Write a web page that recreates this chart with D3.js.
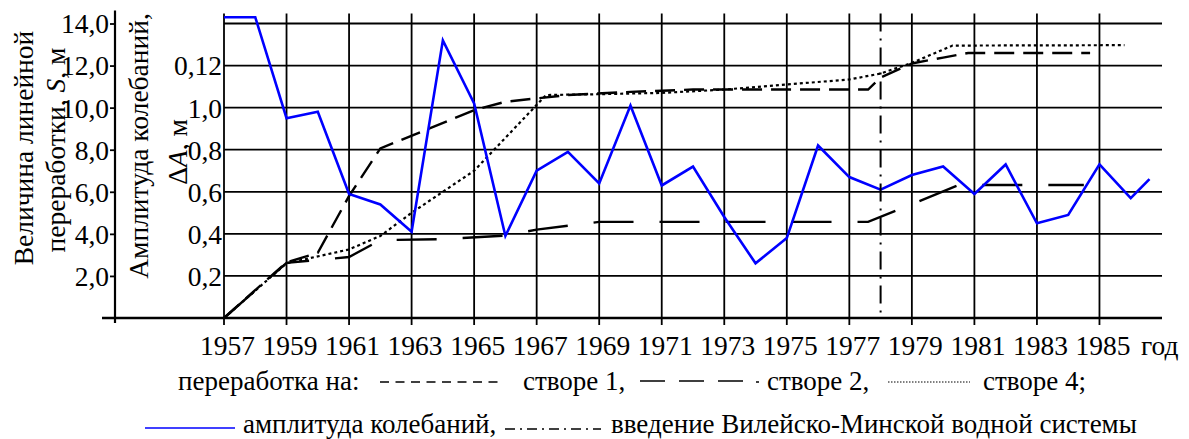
<!DOCTYPE html>
<html><head><meta charset="utf-8">
<script src="https://cdn.jsdelivr.net/npm/d3@7"></script>
<style>
html,body{margin:0;padding:0;background:#fff;}
svg{display:block;}
</style></head><body>
<svg id="c" width="1189" height="439"></svg>
<script>
// ---- data ----
const xTickYears = [1957,1959,1961,1963,1965,1967,1969,1971,1973,1975,1977,1979,1981,1983,1985];
const sTicks = [2,4,6,8,10,12,14];
const aTicks = [0.2,0.4,0.6,0.8,1.0,1.2];
const aTickLabels = ["0,2","0,4","0,6","0,8","1,0","0,12"];

// amplitude of fluctuations ΔA, m
const ampYears  = [1957,1958,1959,1960,1961,1962,1963,1964,1965,1966,1967,1968,1969,1970,1971,1972,1973,1974,1975,1976,1977,1978,1979,1980,1981,1982,1983,1984,1985,1986,1986.6];
const ampValues = [1.43,1.43,0.95,0.98,0.59,0.54,0.41,1.32,1.02,0.39,0.70,0.79,0.64,1.01,0.63,0.72,0.48,0.26,0.38,0.82,0.67,0.61,0.68,0.72,0.59,0.73,0.45,0.49,0.73,0.57,0.66];

// shore processing S, m — створ 1
const s1Years  = [1957,1959,1960,1961,1962,1965,1966,1967,1968,1970,1972,1977.6,1978,1979,1980,1980.8,1984.7];
const s1Values = [0,2.65,3.1,5.8,8.06,9.88,10.28,10.44,10.6,10.75,10.86,10.86,11.43,12.1,12.38,12.6,12.6];
// створ 2
const s2Years  = [1957,1959,1961,1962,1964,1966,1967,1969,1977.6,1980.5,1984.5];
const s2Values = [0,2.62,2.9,3.7,3.75,3.92,4.2,4.57,4.57,6.32,6.32];
// створ 4
const s4Years  = [1957,1959,1961,1962,1963,1965,1967.3,1969,1971,1973,1975,1977,1978,1979,1980.3,1985.8];
const s4Values = [0,2.6,3.26,3.9,5.0,7.0,10.6,10.64,10.7,10.86,11.1,11.34,11.62,12.13,12.95,12.97];

const introYear = 1978; // введение Вилейско-Минской водной системы

// ---- chart ----
const FF = "Liberation Serif";
const FS = 27.5, FL = 27;
const svg = d3.select("#c").attr("font-family",FF).attr("font-size",FS);
const x  = d3.scaleLinear().domain([1957,1987]).range([224,1162]);
const y  = d3.scaleLinear().domain([0,14]).range([318,23.5]);
const yA = d3.scaleLinear().domain([0,1.4]).range(y.range());
const y0 = y(0), yTop = y(14);
const T = (sel, fs=FS) => sel.attr("font-family",FF).attr("font-size",fs).attr("fill","#000");

// horizontal grid
svg.append("g").selectAll("line").data(sTicks).join("line")
  .attr("x1", x(1957)).attr("x2", x.range()[1])
  .attr("y1", d=>y(d)).attr("y2", d=>y(d))
  .attr("stroke","#000").attr("stroke-width",1.8);
// vertical grid (with ticks below axis)
svg.append("g").selectAll("line").data(xTickYears).join("line")
  .attr("x1", d=>x(d)).attr("x2", d=>x(d))
  .attr("y1", yTop-10).attr("y2", y0+7)
  .attr("stroke","#000").attr("stroke-width",1.8);

// x axis
const gx = svg.append("g").attr("transform",`translate(0,${y0})`)
  .call(d3.axisBottom(x).tickValues(xTickYears).tickSize(0).tickFormat(d3.format("d")));
gx.attr("font-family",FF).attr("font-size",FS);
gx.select(".domain").remove();
T(gx.selectAll("text")).attr("y",37).attr("dy",0).attr("x",3);
svg.append("line").attr("x1",102).attr("x2",x.range()[1]).attr("y1",y0).attr("y2",y0)
  .attr("stroke","#000").attr("stroke-width",2.6);
T(svg.append("text")).attr("x",1141).attr("y",y0+37).text("год");

// left S axis
const gS = svg.append("g").attr("transform","translate(115,0)")
  .call(d3.axisLeft(y).tickValues(sTicks).tickSize(5).tickPadding(1)
    .tickFormat(d=>d.toFixed(1).replace(".",",")));
gS.attr("font-family",FF).attr("font-size",FS);
gS.select(".domain").remove();
gS.selectAll("line").attr("stroke-width",1.8);
T(gS.selectAll("text")).attr("dy","0.34em");
svg.append("line").attr("x1",115).attr("x2",115).attr("y1",yTop-13).attr("y2",y0+5)
  .attr("stroke","#000").attr("stroke-width",2.2);

// amplitude axis
const gA = svg.append("g").attr("transform",`translate(${x(1957)},0)`)
  .call(d3.axisLeft(yA).tickValues(aTicks).tickSize(0).tickPadding(2)
    .tickFormat((d,i)=>aTickLabels[i]));
gA.attr("font-family",FF).attr("font-size",FS);
gA.select(".domain").remove();
T(gA.selectAll("text")).attr("dy","0.34em");

// axis titles
T(svg.append("text")).attr("transform","translate(33,148) rotate(-90)")
  .attr("text-anchor","middle").text("Величина линейной");
const t2 = T(svg.append("text")).attr("transform","translate(65,150) rotate(-90)")
  .attr("text-anchor","middle");
t2.append("tspan").text("переработки, ");
t2.append("tspan").attr("font-style","italic").text("S");
t2.append("tspan").text(", м");
T(svg.append("text")).attr("transform","translate(148,146) rotate(-90)")
  .attr("text-anchor","middle").text("Амплитуда колебаний,");
const t4 = T(svg.append("text")).attr("transform","translate(187,152) rotate(-90)")
  .attr("text-anchor","middle");
t4.append("tspan").text("Δ");
t4.append("tspan").attr("font-style","italic").text("A");
t4.append("tspan").text(", м");

// lines
const lineXY = (xs, vs, sc) => d3.line().x((d,i)=>x(xs[i])).y((d,i)=>sc(vs[i]))(vs);
svg.append("path").attr("d", lineXY(s1Years,s1Values,y)).attr("fill","none")
  .attr("stroke","#000").attr("stroke-width",2.4).attr("stroke-dasharray","20,9");
svg.append("path").attr("d", lineXY(s2Years,s2Values,y)).attr("fill","none")
  .attr("stroke","#000").attr("stroke-width",2.4).attr("stroke-dasharray","40,26");
svg.append("path").attr("d", lineXY(s4Years,s4Values,y)).attr("fill","none")
  .attr("stroke","#000").attr("stroke-width",2.2).attr("stroke-dasharray","3,3");
svg.append("path").attr("d", lineXY(ampYears,ampValues,yA)).attr("fill","none")
  .attr("stroke","#0000ff").attr("stroke-width",2.6).attr("stroke-linejoin","miter");
svg.append("line").attr("x1",x(introYear)).attr("x2",x(introYear))
  .attr("y1",yTop-10).attr("y2",y0)
  .attr("stroke","#000").attr("stroke-width",2).attr("stroke-dasharray","18,7,2,7");

// legend
const L1 = 390, L2 = 433;
const lg = svg.append("g").attr("font-family",FF).attr("font-size",FL);
T(lg.append("text"),FL).attr("x",178).attr("y",L1).text("переработка на:");
lg.append("line").attr("x1",380).attr("x2",502).attr("y1",L1-8).attr("y2",L1-8)
  .attr("stroke","#000").attr("stroke-width",1.5).attr("stroke-dasharray","9,6.5");
T(lg.append("text"),FL).attr("x",523).attr("y",L1).text("створе 1,");
lg.append("line").attr("x1",640).attr("x2",743).attr("y1",L1-9).attr("y2",L1-9)
  .attr("stroke","#000").attr("stroke-width",1.5).attr("stroke-dasharray","25,14");
lg.append("line").attr("x1",756).attr("x2",759).attr("y1",L1-8).attr("y2",L1-8)
  .attr("stroke","#000").attr("stroke-width",1.5);
T(lg.append("text"),FL).attr("x",767).attr("y",L1).text("створе 2,");
lg.append("line").attr("x1",888).attr("x2",970).attr("y1",L1-8).attr("y2",L1-8)
  .attr("stroke","#000").attr("stroke-width",1).attr("stroke-dasharray","1.5,1.5");
T(lg.append("text"),FL).attr("x",983).attr("y",L1).text("створе 4;");
lg.append("line").attr("x1",145).attr("x2",235).attr("y1",L2-5).attr("y2",L2-5)
  .attr("stroke","#0000ff").attr("stroke-width",1.5);
T(lg.append("text"),FL).attr("x",243).attr("y",L2).text("амплитуда колебаний,");
lg.append("line").attr("x1",505).attr("x2",601).attr("y1",L2-4).attr("y2",L2-4)
  .attr("stroke","#000").attr("stroke-width",1.5).attr("stroke-dasharray","10,5,2,5");
T(lg.append("text"),FL).attr("x",611).attr("y",L2).text("введение Вилейско-Минской водной системы");
</script>
</body></html>
